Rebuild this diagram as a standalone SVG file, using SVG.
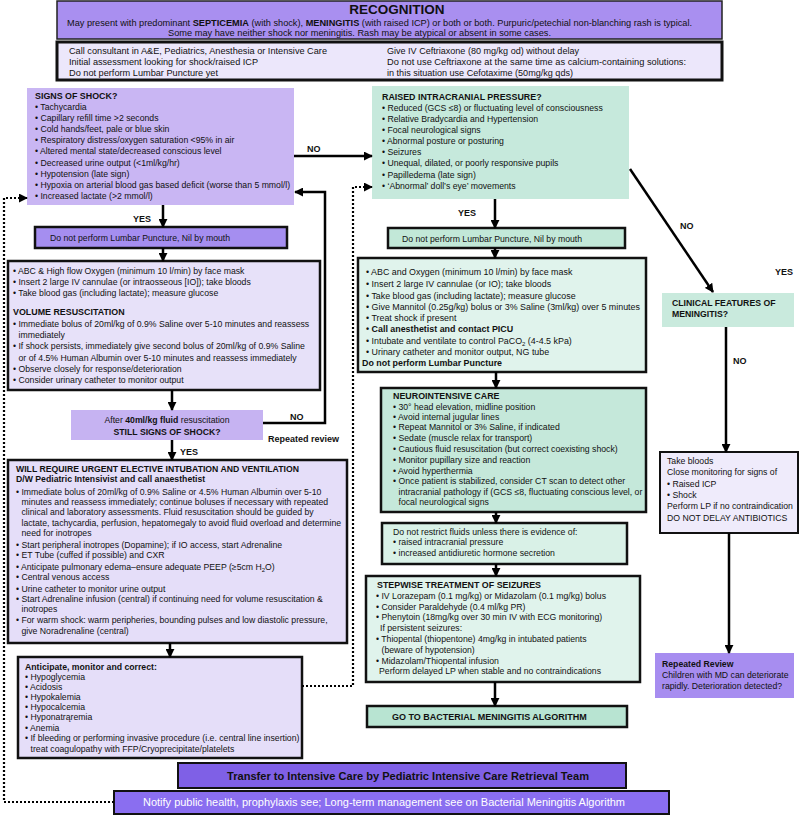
<svg xmlns="http://www.w3.org/2000/svg" width="800" height="815" viewBox="0 0 800 815">
<style>
text{font-family:"Liberation Sans",Arial,sans-serif;font-size:8.7px;fill:#111}
.b{font-weight:bold}
.lbl{font-weight:bold;font-size:9px}
.bx{stroke:#111;stroke-width:2.5}
.ln{stroke:#000;stroke-width:2.5;fill:none}
.dt{stroke:#000;stroke-width:2.2;fill:none;stroke-dasharray:2 2}
.abc text{font-size:8.9px}
</style>
<defs>
<marker id="ah" viewBox="0 0 10 10" refX="9" refY="5" markerWidth="9" markerHeight="9" markerUnits="userSpaceOnUse" orient="auto">
<path d="M0,0 L10,5 L0,10 z" fill="#000"/>
</marker>
</defs>
<rect width="800" height="815" fill="#fff"/>

<g id="recognition">
<rect x="57" y="1" width="665" height="38" fill="#a98ff0" stroke="#222" stroke-width="1.5"/>
<text x="397" y="13.5" text-anchor="middle" class="b" style="font-size:13.5px">RECOGNITION</text>
<text x="67" y="25.5" textLength="625" lengthAdjust="spacingAndGlyphs" style="font-size:9.3px">May present with predominant <tspan class="b">SEPTICEMIA</tspan> (with shock), <tspan class="b">MENINGITIS</tspan> (with raised ICP) or both or both. Purpuric/petechial non-blanching rash is typical.</text>
<text x="168" y="36" textLength="383" lengthAdjust="spacingAndGlyphs" style="font-size:9.3px">Some may have neither shock nor meningitis. Rash may be atypical or absent in some cases.</text>
</g>

<g id="initial">
<rect x="57" y="42" width="665" height="38" fill="#ece7fb" stroke="#111" stroke-width="3"/>
<text x="69" y="53.5" textLength="258" lengthAdjust="spacingAndGlyphs" style="font-size:9.5px">Call consultant in A&amp;E, Pediatrics, Anesthesia or Intensive Care</text>
<text x="69" y="64.5" textLength="189" lengthAdjust="spacingAndGlyphs" style="font-size:9.5px">Initial assessment looking for shock/raised ICP</text>
<text x="69" y="75.5" textLength="149" lengthAdjust="spacingAndGlyphs" style="font-size:9.5px">Do not perform Lumbar Puncture yet</text>
<text x="387" y="53.5" textLength="192" lengthAdjust="spacingAndGlyphs" style="font-size:9.5px">Give IV Ceftriaxone (80 mg/kg od) without delay</text>
<text x="387" y="64.5" textLength="299" lengthAdjust="spacingAndGlyphs" style="font-size:9.5px">Do not use Ceftriaxone at the same time as calcium-containing solutions:</text>
<text x="387" y="75.5" textLength="186" lengthAdjust="spacingAndGlyphs" style="font-size:9.5px">in this situation use Cefotaxime (50mg/kg qds)</text>
</g>

<g id="shock">
<rect x="27" y="88" width="267" height="117" fill="#c9b6f3"/>
<text x="35" y="99" class="b" style="font-size:8.9px">SIGNS OF SHOCK?</text>
<text x="35" y="110">• Tachycardia</text>
<text x="35" y="121.1">• Capillary refill time &gt;2 seconds</text>
<text x="35" y="132.2">• Cold hands/feet, pale or blue skin</text>
<text x="35" y="143.3">• Respiratory distress/oxygen saturation &lt;95% in air</text>
<text x="35" y="154.4">• Altered mental state/decreased conscious level</text>
<text x="35" y="165.5">• Decreased urine output (&lt;1ml/kg/hr)</text>
<text x="35" y="176.6">• Hypotension (late sign)</text>
<text x="35" y="187.7">• Hypoxia on arterial blood gas based deficit (worse than 5 mmol/l)</text>
<text x="35" y="198.8">• Increased lactate (&gt;2 mmol/l)</text>
</g>

<g id="lp-left">
<rect x="35" y="227" width="252" height="21" fill="#a58ef0" class="bx"/>
<text x="50" y="241">Do not perform Lumbar Puncture, Nil by mouth</text>
</g>

<g id="volume">
<rect x="8" y="261" width="312" height="129" fill="#e7e1f9" class="bx"/>
<text x="13" y="274">• ABC &amp; High flow Oxygen (minimum 10 l/min) by face mask</text>
<text x="13" y="285">• Insert 2 large IV cannulae (or intraosseous [IO]); take bloods</text>
<text x="13" y="296">• Take blood gas (including lactate); measure glucose</text>
<text x="13" y="315" class="b" style="font-size:8.9px">VOLUME RESUSCITATION</text>
<text x="13" y="327">• Immediate bolus of 20ml/kg of 0.9% Saline over 5-10 minutes and reassess</text>
<text x="18.5" y="338">immediately</text>
<text x="13" y="349">• If shock persists, immediately give second bolus of 20ml/kg of 0.9% Saline</text>
<text x="18.5" y="361">or of 4.5% Human Albumin over 5-10 minutes and reassess immediately</text>
<text x="13" y="372">• Observe closely for response/deterioration</text>
<text x="13" y="383">• Consider urinary catheter to monitor output</text>
</g>

<g id="still-shock">
<rect x="71" y="410" width="192" height="30" fill="#c6b3f2"/>
<text x="167" y="423" text-anchor="middle">After <tspan class="b">40ml/kg fluid</tspan> resuscitation</text>
<text x="167" y="435" text-anchor="middle" class="b">STILL SIGNS OF SHOCK?</text>
</g>

<g id="intubation">
<rect x="8" y="460" width="339" height="183" fill="#e5def9" class="bx"/>
<text x="16" y="472" class="b">WILL REQUIRE URGENT ELECTIVE INTUBATION AND VENTILATION</text>
<text x="16" y="482" class="b">D/W Pediatric Intensivist and call anaesthetist</text>
<text x="16" y="495">• Immediate bolus of 20ml/kg of 0.9% Saline or 4.5% Human Albumin over 5-10</text>
<text x="21.5" y="505">minutes and reassess immediately; continue boluses if necessary with repeated</text>
<text x="21.5" y="515">clinical and laboratory assessments. Fluid resuscitation should be guided by</text>
<text x="21.5" y="526">lactate, tachycardia, perfusion, hepatomegaly to avoid fluid overload and determine</text>
<text x="21.5" y="536">need for inotropes</text>
<text x="16" y="548">• Start peripheral inotropes (Dopamine); if IO access, start Adrenaline</text>
<text x="16" y="558">• ET Tube (cuffed if possible) and CXR</text>
<text x="16" y="570">• Anticipate pulmonary edema–ensure adequate PEEP (≥5cm H<tspan dy="2" style="font-size:6px">2</tspan><tspan dy="-2">O)</tspan></text>
<text x="16" y="580">• Central venous access</text>
<text x="16" y="592">• Urine catheter to monitor urine output</text>
<text x="16" y="602">• Start Adrenaline infusion (central) if continuing need for volume resuscitation &amp;</text>
<text x="21.5" y="612">inotropes</text>
<text x="16" y="623">• For warm shock: warm peripheries, bounding pulses and low diastolic pressure,</text>
<text x="21.5" y="634">give Noradrenaline (central)</text>
</g>

<g id="anticipate">
<rect x="18" y="657" width="284" height="101" fill="#e5def9" class="bx"/>
<text x="25" y="670" class="b">Anticipate, monitor and correct:</text>
<text x="25" y="680">• Hypoglycemia</text>
<text x="25" y="690">• Acidosis</text>
<text x="25" y="700">• Hypokalemia</text>
<text x="25" y="710">• Hypocalcemia</text>
<text x="25" y="720">• Hyponatrąremia</text>
<text x="25" y="731">• Anemia</text>
<text x="25" y="741">• If bleeding or performing invasive procedure (i.e. central line insertion)</text>
<text x="30.5" y="752">treat coagulopathy with FFP/Cryoprecipitate/platelets</text>
</g>

<g id="transfer">
<rect x="178" y="763" width="448" height="25" fill="#7f60e6" stroke="#111" stroke-width="2"/>
<text x="227" y="779.5" class="b" textLength="362" lengthAdjust="spacingAndGlyphs" style="font-size:10px">Transfer to Intensive Care by Pediatric Intensive Care Retrieval Team</text>
</g>

<g id="notify">
<rect x="114" y="791" width="555" height="23" fill="#8a6ef0" stroke="#111" stroke-width="2"/>
<text x="143" y="805.5" textLength="482" lengthAdjust="spacingAndGlyphs" style="font-size:10px;fill:#fff">Notify public health, prophylaxis see; Long-term management  see on Bacterial Meningitis Algorithm</text>
</g>

<g id="icp">
<rect x="372" y="86" width="257" height="113" fill="#c6e9dc"/>
<text x="382" y="100" class="b" style="font-size:8.9px">RAISED INTRACRANIAL PRESSURE?</text>
<text x="382" y="111">• Reduced (GCS ≤8) or fluctuating level of consciousness</text>
<text x="382" y="122">• Relative Bradycardia and Hypertension</text>
<text x="382" y="133">• Focal neurological signs</text>
<text x="382" y="144">• Abnormal posture or posturing</text>
<text x="382" y="155">• Seizures</text>
<text x="382" y="166">• Unequal, dilated, or poorly responsive pupils</text>
<text x="382" y="178">• Papilledema (late sign)</text>
<text x="382" y="189">• ‘Abnormal’ doll’s eye’ movements</text>
</g>

<g id="lp-right">
<rect x="388" y="228" width="237" height="20" fill="#c2e8d8" class="bx"/>
<text x="402" y="241.5">Do not perform Lumbar Puncture, Nil by mouth</text>
</g>

<g id="abc-icp" class="abc">
<rect x="358" y="258" width="288" height="114" fill="#e0f3ec" class="bx"/>
<text x="366" y="275">• ABC and Oxygen (minimum 10 l/min) by face mask</text>
<text x="366" y="287">• Insert 2 large IV cannulae (or IO); take bloods</text>
<text x="366" y="299">• Take blood gas (including lactate); measure glucose</text>
<text x="366" y="310">• Give Mannitol (0.25g/kg) bolus or 3% Saline (3ml/kg) over 5 minutes</text>
<text x="366" y="321">• Treat shock if present</text>
<text x="366" y="332" class="b">• Call anesthetist and contact PICU</text>
<text x="366" y="344">• Intubate and ventilate to control PaCO<tspan dy="2" style="font-size:6px">2</tspan><tspan dy="-2"> (4-4.5 kPa)</tspan></text>
<text x="366" y="355">• Urinary catheter and monitor output, NG tube</text>
<text x="362" y="366" class="b">Do not perform Lumbar Puncture</text>
</g>

<g id="neuro">
<rect x="381" y="388" width="265" height="124" fill="#c5e8da" class="bx"/>
<text x="393" y="399" class="b" style="font-size:8.9px">NEUROINTENSIVE CARE</text>
<text x="393" y="410">• 30° head elevation, midline position</text>
<text x="393" y="420">• Avoid internal jugular lines</text>
<text x="393" y="430">• Repeat Mannitol or 3% Saline, if indicated</text>
<text x="393" y="441">• Sedate (muscle relax for transport)</text>
<text x="393" y="452">• Cautious fluid resuscitation (but correct coexisting shock)</text>
<text x="393" y="463">• Monitor pupillary size and reaction</text>
<text x="393" y="474">• Avoid hyperthermia</text>
<text x="393" y="484">• Once patient is stabilized, consider CT scan to detect other</text>
<text x="398.5" y="495">intracranial pathology if (GCS ≤8, fluctuating conscious level, or</text>
<text x="398.5" y="505">focal neurological signs</text>
</g>

<g id="fluids">
<rect x="382" y="523" width="245" height="41" fill="#d9f1e7" class="bx"/>
<text x="393" y="535">Do not restrict fluids unless there is evidence of:</text>
<text x="393" y="545">• raised intracranial pressure</text>
<text x="393" y="556">• increased antidiuretic hormone secretion</text>
</g>

<g id="seizures">
<rect x="366" y="576" width="274" height="106" fill="#e0f3ec" class="bx"/>
<text x="377" y="588" class="b" style="font-size:8.9px">STEPWISE TREATMENT OF SEIZURES</text>
<text x="376" y="599">• IV Lorazepam (0.1 mg/kg) or Midazolam (0.1 mg/kg) bolus</text>
<text x="376" y="610">• Consider Paraldehyde (0.4 ml/kg PR)</text>
<text x="376" y="620">• Phenytoin (18mg/kg over 30 min IV with ECG monitoring)</text>
<text x="380" y="631">If persistent seizures:</text>
<text x="376" y="642">• Thiopental (thiopentone) 4mg/kg in intubated patients</text>
<text x="381.5" y="653">(beware of hypotension)</text>
<text x="376" y="664">• Midazolam/Thiopental infusion</text>
<text x="379" y="674">Perform delayed LP when stable and no contraindications</text>
</g>

<g id="goto">
<rect x="367" y="706" width="260" height="21" fill="#b8e4d2" class="bx"/>
<text x="392" y="720" class="b" style="font-size:9px">GO TO BACTERIAL MENINGITIS ALGORITHM</text>
</g>

<g id="clinical">
<rect x="662" y="293" width="132" height="34" fill="#c9eadd"/>
<text x="672" y="306" class="b">CLINICAL FEATURES OF</text>
<text x="672" y="317" class="b">MENINGITIS?</text>
</g>

<g id="take-bloods">
<rect x="660" y="452" width="138" height="81" fill="#efebfb" stroke="#111" stroke-width="2"/>
<text x="667" y="464">Take bloods</text>
<text x="667" y="475">Close monitoring for signs of</text>
<text x="667" y="487">• Raised ICP</text>
<text x="667" y="498">• Shock</text>
<text x="667" y="509">Perform LP if no contraindication</text>
<text x="667" y="521">DO NOT DELAY ANTIBIOTICS</text>
</g>

<g id="review">
<rect x="655" y="653" width="139" height="45" fill="#a78df0"/>
<text x="662" y="667" class="b">Repeated Review</text>
<text x="662" y="678">Children with MD can deteriorate</text>
<text x="662" y="689">rapidly.  Deterioration detected?</text>
</g>

<g id="connectors">
<path class="ln" d="M163,205 V227" marker-end="url(#ah)"/>
<path class="ln" d="M163,248 V261" marker-end="url(#ah)"/>
<path class="ln" d="M172,390 V410" marker-end="url(#ah)"/>
<path class="ln" d="M172,440 V460" marker-end="url(#ah)"/>
<path class="ln" d="M170,643 V657" marker-end="url(#ah)"/>
<path class="ln" d="M294,156 H372" marker-end="url(#ah)"/>
<path class="ln" d="M263,423 H325 V192 H295" marker-end="url(#ah)"/>
<path class="ln" d="M495,199 V228" marker-end="url(#ah)"/>
<path class="ln" d="M495,248 V258" marker-end="url(#ah)"/>
<path class="ln" d="M496,372 V388" marker-end="url(#ah)"/>
<path class="ln" d="M496,512 V523" marker-end="url(#ah)"/>
<path class="ln" d="M496,564 V576" marker-end="url(#ah)"/>
<path class="ln" d="M495,682 V706" marker-end="url(#ah)"/>
<path class="ln" d="M630,169 L713,292" marker-end="url(#ah)"/>
<path class="ln" d="M726,327 V452" marker-end="url(#ah)"/>
<path class="ln" d="M729,533 V653" marker-end="url(#ah)"/>
<path class="dt" d="M114,802 H4 V198 H27" marker-end="url(#ah)"/>
<path class="dt" d="M302,686 H353 V187 H372" marker-end="url(#ah)"/>
<text x="133" y="222" class="lbl">YES</text>
<text x="307" y="152" class="lbl">NO</text>
<text x="290" y="420" class="lbl">NO</text>
<text x="268" y="442" class="lbl">Repeated review</text>
<text x="180" y="455" class="lbl">YES</text>
<text x="458" y="216" class="lbl">YES</text>
<text x="680" y="229" class="lbl">NO</text>
<text x="775" y="275" class="lbl">YES</text>
<text x="733" y="364" class="lbl">NO</text>
</g>
</svg>
